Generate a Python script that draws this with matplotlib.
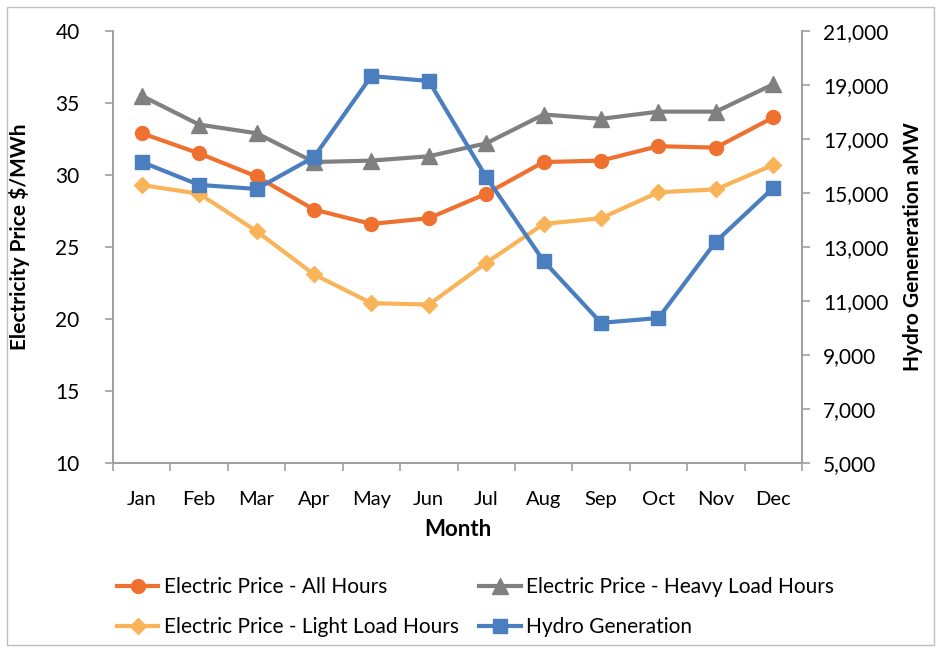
import matplotlib
matplotlib.use("Agg")
import matplotlib.pyplot as plt
from matplotlib.ticker import FuncFormatter, FixedLocator
from matplotlib.patches import Rectangle
import numpy as np

plt.rcParams['font.family'] = ['Lato', 'DejaVu Sans']

months = ["Jan", "Feb", "Mar", "Apr", "May", "Jun", "Jul", "Aug", "Sep", "Oct", "Nov", "Dec"]
price_all = [32.9, 31.5, 29.9, 27.6, 26.6, 27.0, 28.7, 30.9, 31.0, 32.0, 31.9, 34.0]
price_heavy = [35.5, 33.5, 32.9, 30.9, 31.0, 31.3, 32.2, 34.2, 33.9, 34.4, 34.4, 36.3]
price_light = [29.3, 28.7, 26.1, 23.1, 21.1, 21.0, 23.9, 26.6, 27.0, 28.8, 29.0, 30.7]
hydro = [16150, 15300, 15150, 16330, 19330, 19150, 15590, 12480, 10190, 10370, 13200, 15190]

c_all = "#F07030"
c_heavy = "#808080"
c_light = "#F9B45A"
c_hydro = "#4A7EBE"
axis_gray = "#A0A0A0"

fig = plt.figure(figsize=(9.41, 6.52), dpi=100)
ax = fig.add_axes([113/941, 1-463/652, (802-113)/941, (463-31)/652])
ax2 = ax.twinx()

x = np.arange(len(months))
lw = 3.0
l1, = ax.plot(x, price_all, color=c_all, lw=lw, marker='o', ms=10, label="Electric Price - All Hours")
l2, = ax.plot(x, price_heavy, color=c_heavy, lw=lw, marker='^', ms=11, label="Electric Price - Heavy Load Hours")
l3, = ax.plot(x, price_light, color=c_light, lw=lw, marker='D', ms=8, label="Electric Price - Light Load Hours")
l4, = ax2.plot(x, hydro, color=c_hydro, lw=lw, marker='s', ms=10, label="Hydro Generation")

ax.set_xlim(-0.5, 11.5)
ax.set_ylim(10, 40)
ax.set_yticks(np.arange(10, 41, 5))
ax2.set_ylim(5000, 21000)
ax2.set_yticks(np.arange(5000, 21001, 2000))
ax2.yaxis.set_major_formatter(FuncFormatter(lambda v, p: f"{int(v):,}"))

ax.set_xticks(x)
ax.set_xticklabels(months)
ax.xaxis.set_minor_locator(FixedLocator(np.arange(-0.5, 12, 1)))
ax.tick_params(axis='x', which='major', length=0, labelsize=14.5, pad=20)
ax.tick_params(axis='x', which='minor', length=6, color=axis_gray, width=1.2)
ax.tick_params(axis='y', length=6, color=axis_gray, width=1.2, labelsize=15, pad=18)
ax2.tick_params(axis='y', length=6, color=axis_gray, width=1.2, labelsize=15, pad=9)

for a in (ax, ax2):
    a.spines['top'].set_visible(False)
    for s in ('left', 'right', 'bottom'):
        a.spines[s].set_color(axis_gray)
        a.spines[s].set_linewidth(1.3)

ax.set_xlabel("Month", fontsize=16, fontweight='bold', labelpad=8)
ax.set_ylabel("Electricity Price $/MWh", fontsize=15, fontweight='bold')
ax.yaxis.set_label_coords(-0.12, 0.523)
ax2.set_ylabel("Hydro Geneneration aMW", fontsize=15, fontweight='bold')
ax2.yaxis.set_label_coords(1.147, 0.502)

fig.legend(handles=[l1, l3, l2, l4], loc='center left', ncol=2, frameon=False,
           bbox_to_anchor=(98/941, 1-607/652), fontsize=15, handlelength=2.0,
           columnspacing=1.0, labelspacing=0.95, handletextpad=0.25)

fig.patches.append(Rectangle((7/941, 1-645/652), 927/941, 638/652, transform=fig.transFigure,
                             fill=False, edgecolor="#BFBFBF", lw=1.0))

fig.savefig("out.png", dpi=100)
